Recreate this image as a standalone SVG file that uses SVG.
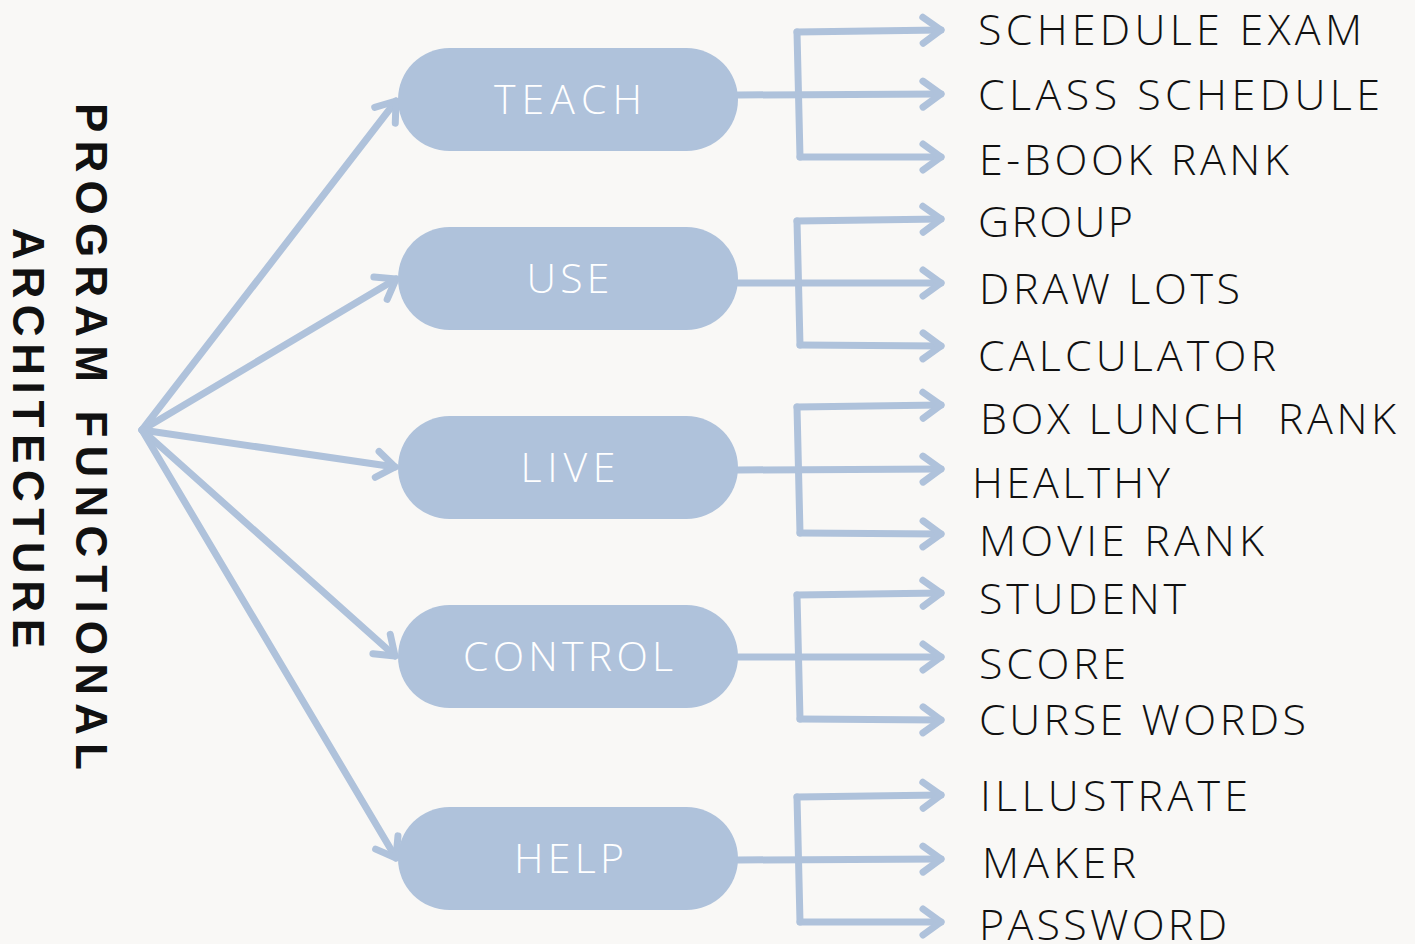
<svg xmlns="http://www.w3.org/2000/svg" width="1415" height="944" viewBox="0 0 1415 944">
  <style>
    .node rect { fill: #afc2db; }
    .node text { fill: #ffffff; font-family: "Open Sans", "Liberation Sans", sans-serif; font-weight: 300; font-size: 41px; text-anchor: middle; }
    .label { fill: #111111; font-family: "Open Sans", "Liberation Sans", sans-serif; font-weight: 300; font-size: 43px; }
    .title { fill: #111111; font-family: "Liberation Sans", "DejaVu Sans", sans-serif; font-weight: 700; font-size: 44px; }
    .conn path { fill: none; stroke: #afc2db; stroke-width: 7; stroke-linecap: round; stroke-linejoin: round; }
  </style>
  <defs>
    <marker id="arrow" markerUnits="userSpaceOnUse" viewBox="-25 -20 30 40" refX="0" refY="0" markerWidth="30" markerHeight="40" orient="auto" overflow="visible">
      <path d="M-18,-13 L0,0 L-18,13" fill="none" stroke="#afc2db" stroke-width="7" stroke-linecap="round" stroke-linejoin="round"/>
    </marker>
  </defs>
  <rect width="1415" height="944" fill="#f9f8f6"/>

  <g id="title">
    <text class="title" transform="translate(76,103) rotate(90)" textLength="667" lengthAdjust="spacing">PROGRAM FUNCTIONAL</text>
    <text class="title" transform="translate(13,228) rotate(90)" textLength="420" lengthAdjust="spacing">ARCHITECTURE</text>
  </g>

  <g id="connectors" class="conn">
    <!-- fan -->
    <path d="M142,430 L396,101" marker-end="url(#arrow)"/>
    <path d="M142,430 L396,279" marker-end="url(#arrow)"/>
    <path d="M142,430 L395,467" marker-end="url(#arrow)"/>
    <path d="M142,430 L395,656" marker-end="url(#arrow)"/>
    <path d="M142,430 L396,858" marker-end="url(#arrow)"/>
    <!-- TEACH -->
    <path d="M738,95 L941,94" marker-end="url(#arrow)"/>
    <path d="M797,32 L800,157"/>
    <path d="M797,32 L941,30" marker-end="url(#arrow)"/>
    <path d="M800,157 L941,157" marker-end="url(#arrow)"/>
    <!-- USE -->
    <path d="M738,283 L941,283" marker-end="url(#arrow)"/>
    <path d="M797,221 L800,345"/>
    <path d="M797,221 L941,219" marker-end="url(#arrow)"/>
    <path d="M800,345 L941,346" marker-end="url(#arrow)"/>
    <!-- LIVE -->
    <path d="M738,470 L941,469" marker-end="url(#arrow)"/>
    <path d="M797,407 L800,533"/>
    <path d="M797,407 L941,405" marker-end="url(#arrow)"/>
    <path d="M800,533 L941,534" marker-end="url(#arrow)"/>
    <!-- CONTROL -->
    <path d="M738,657 L941,657" marker-end="url(#arrow)"/>
    <path d="M797,595 L800,719"/>
    <path d="M797,595 L941,593" marker-end="url(#arrow)"/>
    <path d="M800,719 L941,720" marker-end="url(#arrow)"/>
    <!-- HELP -->
    <path d="M738,860 L941,859" marker-end="url(#arrow)"/>
    <path d="M797,797 L800,922"/>
    <path d="M797,797 L941,795" marker-end="url(#arrow)"/>
    <path d="M800,922 L941,922" marker-end="url(#arrow)"/>
  </g>

  <g id="node-teach" class="node">
    <rect x="398" y="48" width="340" height="103" rx="51.5"/>
    <text x="568" y="114" textLength="148" lengthAdjust="spacing">TEACH</text>
  </g>
  <g id="node-use" class="node">
    <rect x="398" y="227" width="340" height="103" rx="51.5"/>
    <text x="568" y="293" textLength="83" lengthAdjust="spacing">USE</text>
  </g>
  <g id="node-live" class="node">
    <rect x="398" y="416" width="340" height="103" rx="51.5"/>
    <text x="568" y="482" textLength="95" lengthAdjust="spacing">LIVE</text>
  </g>
  <g id="node-control" class="node">
    <rect x="398" y="605" width="340" height="103" rx="51.5"/>
    <text x="568" y="671" textLength="210" lengthAdjust="spacing">CONTROL</text>
  </g>
  <g id="node-help" class="node">
    <rect x="398" y="807" width="340" height="103" rx="51.5"/>
    <text x="569" y="873" textLength="110" lengthAdjust="spacing">HELP</text>
  </g>

  <g id="labels">
    <text class="label" x="978" y="45" textLength="384" lengthAdjust="spacing">SCHEDULE EXAM</text>
    <text class="label" x="978" y="110" textLength="402" lengthAdjust="spacing">CLASS SCHEDULE</text>
    <text class="label" x="979" y="175" textLength="310" lengthAdjust="spacing">E-BOOK RANK</text>
    <text class="label" x="978" y="237" textLength="155" lengthAdjust="spacing">GROUP</text>
    <text class="label" x="979" y="304" textLength="261" lengthAdjust="spacing">DRAW LOTS</text>
    <text class="label" x="978" y="371" textLength="298" lengthAdjust="spacing">CALCULATOR</text>
    <text class="label" x="980" y="434" textLength="416" lengthAdjust="spacing" xml:space="preserve">BOX LUNCH  RANK</text>
    <text class="label" x="972" y="498" textLength="198" lengthAdjust="spacing">HEALTHY</text>
    <text class="label" x="979" y="556" textLength="285" lengthAdjust="spacing">MOVIE RANK</text>
    <text class="label" x="979" y="614" textLength="207" lengthAdjust="spacing">STUDENT</text>
    <text class="label" x="979" y="679" textLength="147" lengthAdjust="spacing">SCORE</text>
    <text class="label" x="979" y="735" textLength="327" lengthAdjust="spacing">CURSE WORDS</text>
    <text class="label" x="980" y="811" textLength="268" lengthAdjust="spacing">ILLUSTRATE</text>
    <text class="label" x="982" y="878" textLength="154" lengthAdjust="spacing">MAKER</text>
    <text class="label" x="979" y="940" textLength="248" lengthAdjust="spacing">PASSWORD</text>
  </g>
</svg>
